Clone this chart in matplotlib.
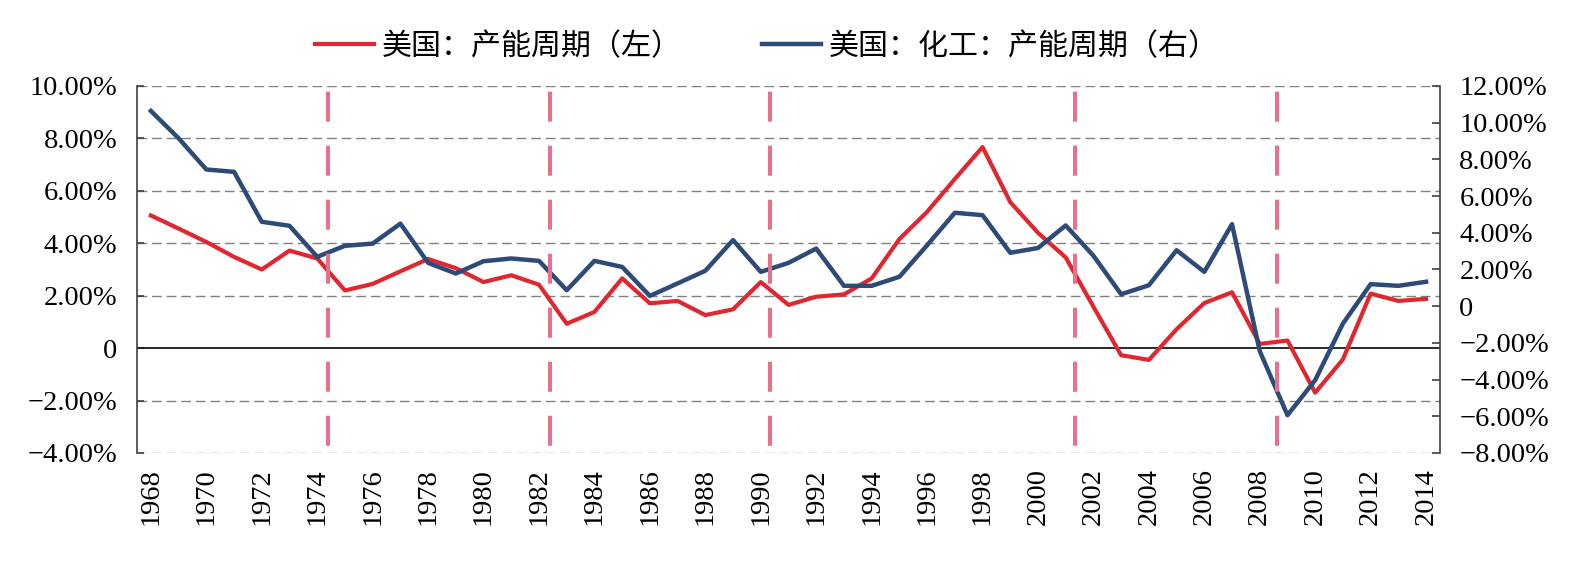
import matplotlib
matplotlib.use("Agg")
import matplotlib.pyplot as plt

plt.rcParams['font.family'] = ['Liberation Serif', 'DejaVu Serif']
plt.rcParams['axes.unicode_minus'] = True

# %% data
years = list(range(1968, 2015))
us_capacity = [5.06, 4.56, 4.05, 3.48, 3.00, 3.72, 3.42, 2.20, 2.45, 2.93,
               3.40, 3.05, 2.52, 2.78, 2.42, 0.93, 1.38, 2.66, 1.71, 1.80,
               1.26, 1.48, 2.52, 1.65, 1.96, 2.05, 2.66, 4.16, 5.20, 6.45,
               7.67, 5.57, 4.40, 3.46, 1.58, -0.27, -0.45, 0.72, 1.72, 2.13,
               0.16, 0.29, -1.70, -0.43, 2.08, 1.80, 1.88]
chem_capacity = [10.64, 9.15, 7.45, 7.32, 4.60, 4.38, 2.69, 3.29, 3.41, 4.50,
                 2.36, 1.78, 2.45, 2.60, 2.47, 0.87, 2.47, 2.14, 0.56, 1.24,
                 1.93, 3.60, 1.87, 2.36, 3.14, 1.11, 1.11, 1.60, 3.32, 5.09,
                 4.96, 2.91, 3.17, 4.40, 2.75, 0.65, 1.14, 3.05, 1.87, 4.47,
                 -2.45, -5.94, -4.03, -0.95, 1.20, 1.11, 1.33]
# cycle markers (fractional year positions)
cycle_marks = [1974.4, 1982.39, 1990.33, 2001.33, 2008.63]

left_ticks = [10, 8, 6, 4, 2, 0, -2, -4]
right_ticks = [12, 10, 8, 6, 4, 2, 0, -2, -4, -6, -8]
label_red = '美国：产能周期（左）'
label_blue = '美国：化工：产能周期（右）'

RED = '#E0262F'
BLUE = '#2D4A78'
PINK = '#E8708A'


def pct(v):
    if v == 0:
        return '0'
    s = f'{abs(v):.2f}%'
    return ('\u2212' + s) if v < 0 else s


# %% plot
fig = plt.figure(figsize=(15.86, 5.71), dpi=100)
ax = fig.add_axes([0.0864, 0.2067, 0.8215, 0.6427])
ax2 = ax.twinx()

x = list(range(len(years)))
ax.set_xlim(-0.5, len(years) - 0.5)
ax.set_ylim(-4, 10)
ax2.set_ylim(-8, 12)

for v in left_ticks:
    if v == 0:
        ax.axhline(v, color='#1a1a1a', lw=1.3, zorder=2)
    else:
        ax.axhline(v, color='#808080', lw=1.0, linestyle=(0, (7, 3.5)), zorder=1)

l1, = ax.plot(x, us_capacity, color=RED, lw=3.0, zorder=3, label=label_red)
l2, = ax2.plot(x, chem_capacity, color=BLUE, lw=3.2, zorder=3, label=label_blue)

for yr in cycle_marks:
    xi = yr - years[0]
    ax2.plot([xi, xi], [1, 0], transform=ax2.get_xaxis_transform(),
             color=PINK, lw=2.9, linestyle=(12.0, (7.45, 5.96)), zorder=4,
             solid_capstyle='butt', dash_capstyle='butt')

ax.set_yticks(left_ticks)
ax.set_yticklabels([pct(v) for v in left_ticks], fontsize=20.5)
ax2.set_yticks(right_ticks)
ax2.set_yticklabels([pct(v) for v in right_ticks], fontsize=20.5)

ax.set_xticks(x[::2])
ax.set_xticklabels([str(y) for y in years[::2]], rotation=90, fontsize=20.5)
ax.tick_params(axis='x', length=0, pad=11)
ax.tick_params(axis='y', direction='in', length=5, width=1.2, color='#404040', pad=14)
ax2.tick_params(axis='y', direction='in', length=6, width=1.2, color='#404040', pad=14)

for a in (ax, ax2):
    for side in ('top', 'bottom', 'left', 'right'):
        a.spines[side].set_visible(False)
ax.spines['left'].set_visible(True)
ax.spines['left'].set_color('#404040')
ax.spines['left'].set_linewidth(1.2)
ax2.spines['right'].set_visible(True)
ax2.spines['right'].set_color('#404040')
ax2.spines['right'].set_linewidth(1.2)

fig.legend([l1, l2], [label_red, label_blue], loc='center',
           bbox_to_anchor=(0.4835, 0.919), ncol=2, frameon=False,
           prop={'family': 'Noto Sans CJK SC', 'size': 21.6},
           handlelength=1.95, handletextpad=0.25, columnspacing=2.7)

fig.savefig('out.png', dpi=100)
